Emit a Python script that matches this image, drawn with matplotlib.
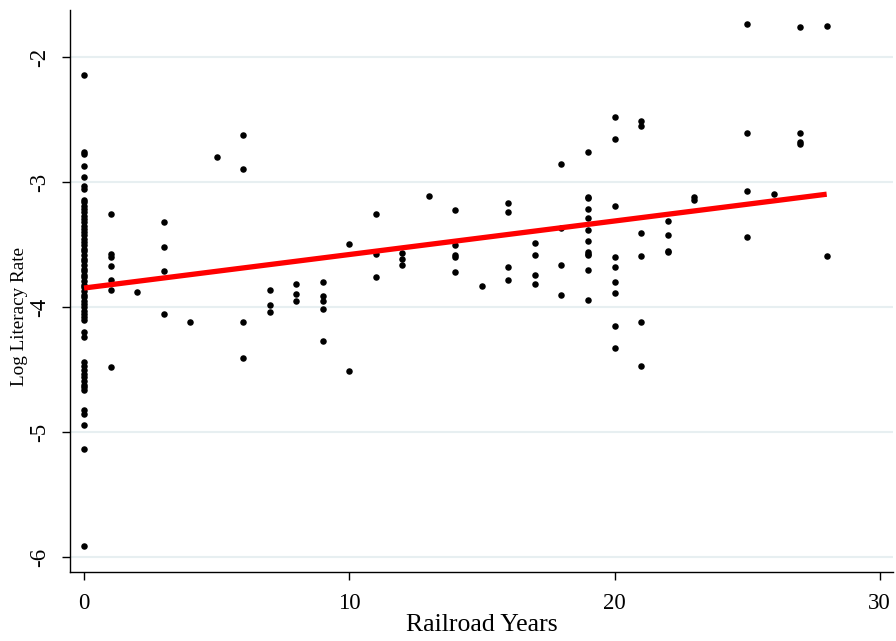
import matplotlib
matplotlib.use("Agg")
import matplotlib.pyplot as plt
import numpy as np

plt.rcParams['font.family'] = ['Liberation Serif', 'DejaVu Serif']

# ---- data ----
x0_vals = [-2.14, -2.755, -2.775, -2.87, -2.96, -3.03, -3.05,
           -3.14, -3.16, -3.19, -3.21, -3.24, -3.27, -3.29, -3.32, -3.35, -3.37,
           -3.40, -3.42, -3.45, -3.48, -3.50, -3.53, -3.55, -3.58, -3.61, -3.63,
           -3.66, -3.69, -3.71, -3.74, -3.76, -3.79, -3.82, -3.84, -3.87, -3.90,
           -3.92, -3.95, -3.97, -4.00, -4.03, -4.05, -4.08, -4.10,
           -4.195, -4.235,
           -4.44, -4.47, -4.50, -4.53, -4.56, -4.59, -4.62, -4.64, -4.66,
           -4.82, -4.85, -4.94, -5.13, -5.91]

other_points = {
    1: [-3.256, -3.576, -3.595, -3.67, -3.78, -3.86, -4.48],
    2: [-3.875],
    3: [-3.32, -3.518, -3.71, -4.056],
    4: [-4.115],
    5: [-2.80],
    6: [-2.62, -2.894, -4.115, -4.403],
    7: [-3.862, -3.98, -4.037],
    8: [-3.81, -3.896, -3.947],
    9: [-3.80, -3.907, -3.947, -4.011, -4.267],
    10: [-3.49, -4.51],
    11: [-3.25, -3.571, -3.76],
    12: [-3.563, -3.611, -3.659],
    13: [-3.107],
    14: [-3.222, -3.499, -3.584, -3.60, -3.715],
    15: [-3.827],
    16: [-3.168, -3.238, -3.675, -3.782],
    17: [-3.488, -3.579, -3.744, -3.811],
    18: [-2.854, -3.367, -3.664, -3.897],
    19: [-2.755, -3.115, -3.126, -3.214, -3.286, -3.384, -3.47, -3.555, -3.571,
         -3.584, -3.704, -3.944],
    20: [-2.475, -2.651, -3.19, -3.60, -3.675, -3.795, -3.886, -4.147, -4.323],
    21: [-2.507, -2.55, -3.403, -3.59, -4.115, -4.467],
    22: [-3.31, -3.419, -3.55, -3.56],
    23: [-3.113, -3.139],
    25: [-1.736, -2.603, -3.067, -3.435],
    26: [-3.091],
    27: [-1.755, -2.608, -2.68, -2.694],
    28: [-1.747, -3.592],
}

fit_intercept = -3.845
fit_slope = 0.02682
fit_x_range = [0, 28]

x_ticks = [0, 10, 20, 30]
y_ticks = [-2, -3, -4, -5, -6]
x_label = "Railroad Years"
y_label = "Log Literacy Rate"

# ---- assemble ----
xs = [0] * len(x0_vals)
ys = list(x0_vals)
for k, v in other_points.items():
    xs += [k] * len(v)
    ys += v

fig = plt.figure(figsize=(8.96, 6.41), dpi=100)
ax = fig.add_axes([70/896, 1 - 571.7/641, (893-70)/896, (571.7-10)/641])

for yt in y_ticks:
    ax.axhline(yt, color='#e7eff1', lw=1.5, zorder=0)

ax.scatter(xs, ys, s=22, color='black', zorder=3, linewidths=0)
fx = np.array(fit_x_range, dtype=float)
ax.plot(fx, fit_intercept + fit_slope * fx, color='#ff0000', lw=3.8, zorder=4,
        solid_capstyle='butt')

ax.set_xlim(-0.53, 30.5)
ax.set_ylim(-6.115, -1.62)
ax.set_xticks(x_ticks)
ax.set_yticks(y_ticks)
ax.set_yticklabels([str(t) for t in y_ticks], rotation=90, va='center')
ax.tick_params(axis='both', length=6, width=1, labelsize=16.5, color='black')
ax.tick_params(axis='x', pad=9)
ax.tick_params(axis='y', pad=8)
for s in ['top', 'right']:
    ax.spines[s].set_visible(False)
for s in ['left', 'bottom']:
    ax.spines[s].set_linewidth(1.0)

ax.set_xlabel(x_label, fontsize=18.5, labelpad=0)
ax.set_ylabel(y_label, fontsize=13.8, labelpad=6)
ax.yaxis.set_label_coords(-0.051, 0.455)

fig.savefig("out.png", dpi=100)
